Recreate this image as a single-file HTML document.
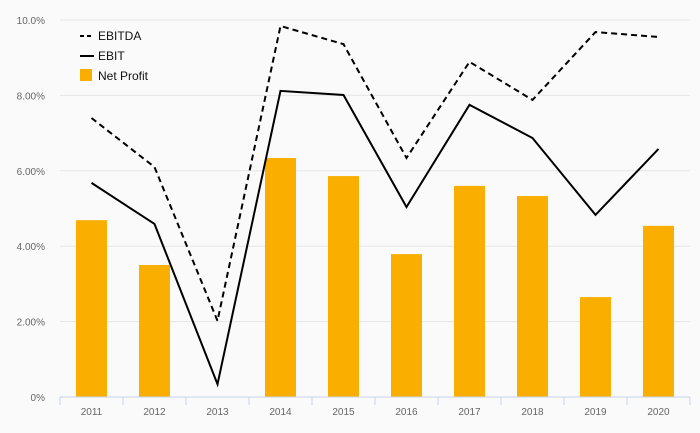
<!DOCTYPE html>
<html><head><meta charset="utf-8"><style>
body{margin:0;background:#fafafa;font-family:"Liberation Sans",sans-serif}
svg{display:block}
</style></head><body>
<svg id="chart" width="700" height="433">
<rect width="700" height="433" fill="#fafafa"/>
<g id="grid"></g><g id="bars"></g><g id="lines"></g><g id="axes"></g>
<g font-size="12" fill="#111">
 <g><line x1="80" y1="36" x2="94" y2="36" stroke="#000" stroke-width="2" stroke-dasharray="4,3"/><text x="98" y="40">EBITDA</text></g>
 <g><line x1="80" y1="56" x2="94" y2="56" stroke="#000" stroke-width="2"/><text x="98" y="60">EBIT</text></g>
 <g><rect x="80" y="69" width="12" height="12" fill="#f9ae00"/><text x="98" y="80">Net Profit</text></g>
</g>
</svg>
<script>
const categories=["2011","2012","2013","2014","2015","2016","2017","2018","2019","2020"];
const netProfit=[4.69,3.50,0,6.34,5.86,3.79,5.60,5.33,2.65,4.54];
const ebit=[5.68,4.59,0.34,8.12,8.01,5.04,7.75,6.87,4.83,6.58];
const ebitda=[7.40,6.10,2.02,9.84,9.36,6.34,8.89,7.88,9.68,9.55];
const yTicks=[0,2,4,6,8,10];
const yTickLabels=["0%","2.00%","4.00%","6.00%","8.00%","10.0%"];
const NS="http://www.w3.org/2000/svg";
const x0=60,x1=690,yb=397,yt=20,ymax=10;
const step=(x1-x0)/categories.length;
const xs=i=>x0+step*(i+0.5);
const ys=v=>yb-(v/ymax)*(yb-yt);
function mk(t,a,p){const e=document.createElementNS(NS,t);for(const k in a)e.setAttribute(k,a[k]);p.appendChild(e);return e;}
const grid=document.getElementById('grid'),bars=document.getElementById('bars'),lines=document.getElementById('lines'),axes=document.getElementById('axes');
yTicks.forEach((v,i)=>{
 if(v>0){const g=mk('line',{x1:x0,x2:x1,y1:ys(v),y2:ys(v),stroke:'#e6e6e6','stroke-width':1},grid);
 
 }
 const t=mk('text',{x:45,y:ys(v)+4,'text-anchor':'end','font-size':10,fill:'#666'},axes);t.textContent=yTickLabels[i];
 
 
});
const ax=mk('line',{x1:x0,x2:x1,y1:yb,y2:yb,stroke:'#c5d3ea','stroke-width':1},axes);


for(let i=0;i<=categories.length;i++){
 const tk=mk('line',{x1:x0+step*i,x2:x0+step*i,y1:yb,y2:yb+8,stroke:'#c5d3ea'},axes);
 
 
}
categories.forEach((c,i)=>{
 const t=mk('text',{x:xs(i),y:415,'text-anchor':'middle','font-size':10,fill:'#666'},axes);t.textContent=c;
 
 
 const b=mk('rect',{x:xs(i)-15.5,y:ys(netProfit[i]),width:31,height:yb-ys(netProfit[i]),fill:'#f9ae00'},bars);
 
 
});
const pts=a=>a.map((v,i)=>xs(i)+','+ys(v)).join(' ');
const l1=mk('polyline',{points:pts(ebitda),fill:'none',stroke:'#000','stroke-width':2,'stroke-dasharray':'6,4'},lines);


const l2=mk('polyline',{points:pts(ebit),fill:'none',stroke:'#000','stroke-width':2},lines);


</script>
</body></html>
